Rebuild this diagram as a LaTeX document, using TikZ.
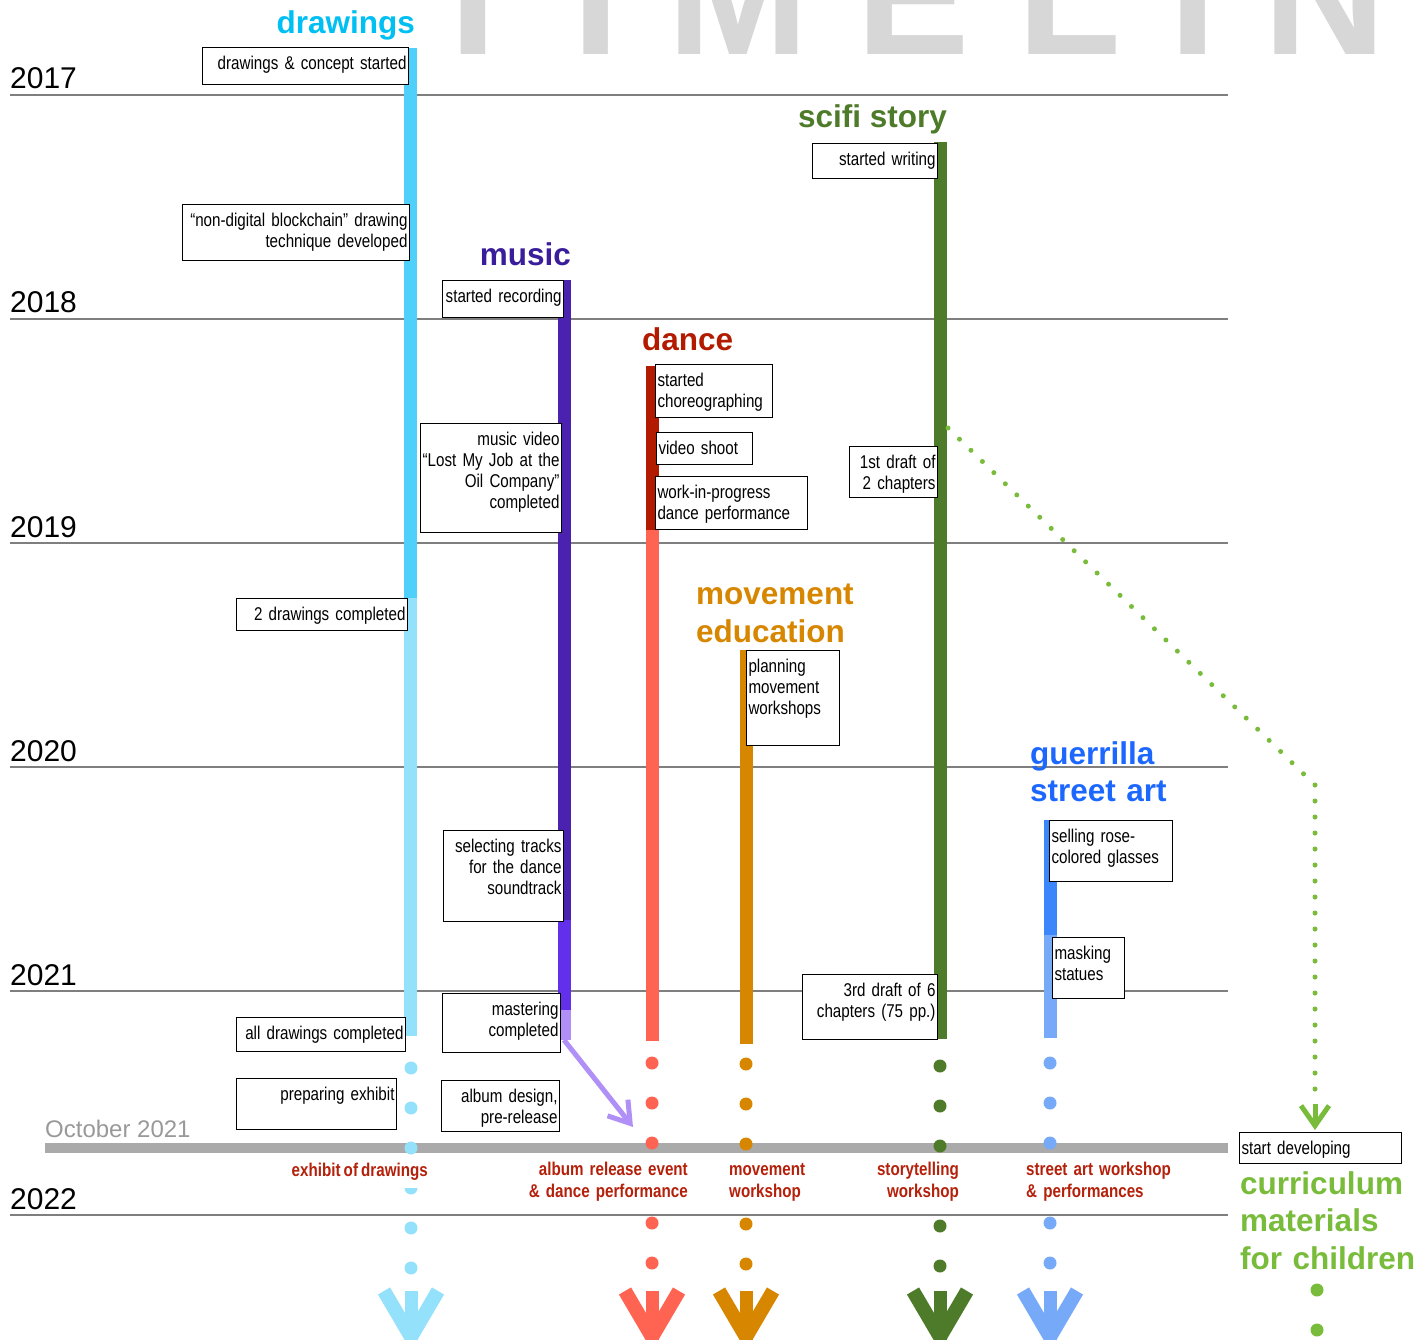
\documentclass[tikz,border=0pt]{standalone}
\usepackage{fontspec}
\setmainfont{Liberation Sans}
\newfontfamily\narrowfont[FakeStretch=0.82, WordSpace=0.75]{Liberation Sans}
\newfontfamily\narrowbold[FakeStretch=0.82, WordSpace=0.75]{Liberation Sans Bold}
\newfontfamily\bigfont[LetterSpace=28]{Liberation Sans Bold}
\usetikzlibrary{arrows.meta}

\definecolor{bigGray}{HTML}{D7D7D7}
\definecolor{yearGray}{HTML}{7F7F7F}
\definecolor{octGray}{HTML}{AAAAAA}
\definecolor{octText}{HTML}{999999}
\definecolor{labelRed}{HTML}{B5200A}
\definecolor{drawTitle}{HTML}{00BFF3}
\definecolor{drawDark}{HTML}{4FD0FA}
\definecolor{drawLight}{HTML}{94E1FB}
\definecolor{musTitle}{HTML}{3A1D9A}
\definecolor{musDark}{HTML}{4B22B0}
\definecolor{musMid}{HTML}{6230EA}
\definecolor{musLight}{HTML}{B090F6}
\definecolor{danDark}{HTML}{B21B00}
\definecolor{danLight}{HTML}{FF6352}
\definecolor{movColor}{HTML}{D78600}
\definecolor{sciColor}{HTML}{4E7B29}
\definecolor{strTitle}{HTML}{1C68FF}
\definecolor{strDark}{HTML}{3B86FA}
\definecolor{strLight}{HTML}{76A9F8}
\definecolor{curColor}{HTML}{79BC3B}

\tikzset{
  yearline/.style={draw=yearGray, line width=2pt},
  bar/.style={line width=13pt},
  tail/.style={line width=13pt, line cap=round, dash pattern=on 0pt off 40pt},
  stem/.style={line width=13pt},
  barbs/.style={line width=14pt, miter limit=10},
  tbox/.style={draw, fill=white, line width=1pt, inner xsep=2pt, inner ysep=6pt,
    text height=16pt, anchor=north west,
    font=\narrowfont\fontsize{18.5}{21}\selectfont},
  lbl/.style={fill=white, inner sep=2pt, text height=14pt,
    text=labelRed, font=\narrowbold\fontsize{18.5}{22}\selectfont},
  title/.style={inner sep=0pt, font=\bfseries\fontsize{31.5}{37.5}\selectfont},
  year/.style={inner sep=0pt, anchor=base west, font=\fontsize{30}{30}\selectfont},
}

\begin{document}
\begin{tikzpicture}[x=1pt, y=-1pt]
  \useasboundingbox (0,0) rectangle (1425,1340);
  \clip (0,0) rectangle (1425,1340);

  % background title, cut off at the top
  \node[anchor=base west, inner sep=0pt, text=bigGray,
    font=\bigfont\fontsize{170}{170}\selectfont] at (421,55) (bigtitle) {TIMELINE};

  % years
  \foreach \yr/\y in {2017/95, 2018/319, 2019/543, 2020/767, 2021/991, 2022/1215} {
    \draw[yearline] (10,\y) -- (1228,\y);
    \node[year] at (10,\y-6) (y\yr) {\yr};
  }
  \draw[draw=octGray, line width=10pt] (45,1148) -- (1228,1148);
  \node[anchor=base west, inner sep=0pt, text=octText,
    font=\fontsize{24}{24}\selectfont] at (45,1137) (oct) {October 2021};

  % bars
  \coordinate (drTop) at (410,48);
  \coordinate (drMid) at (410,598);
  \coordinate (drEnd) at (410,1036);
  \coordinate (muTop) at (564,280);
  \coordinate (muMid) at (564,920);
  \coordinate (muLow) at (564,1010);
  \coordinate (muEnd) at (564,1040);
  \coordinate (daTop) at (652,366);
  \coordinate (daMid) at (652,530);
  \coordinate (daEnd) at (652,1041);
  \coordinate (mvTop) at (746,650);
  \coordinate (mvEnd) at (746,1044);
  \coordinate (scTop) at (940,142);
  \coordinate (scEnd) at (940,1039);
  \coordinate (stTop) at (1050,820);
  \coordinate (stMid) at (1050,935);
  \coordinate (stEnd) at (1050,1038);
  \draw[bar, drawDark] (drTop) -- (drMid);
  \draw[bar, drawLight] (drMid) -- (drEnd);
  \draw[bar, musDark] (muTop) -- (muMid);
  \draw[bar, musMid] (muMid) -- (muLow);
  \draw[bar, musLight] (muLow) -- (muEnd);
  \draw[bar, danDark] (daTop) -- (daMid);
  \draw[bar, danLight] (daMid) -- (daEnd);
  \draw[bar, movColor] (mvTop) -- (mvEnd);
  \draw[bar, sciColor] (scTop) -- (scEnd);
  \draw[bar, strDark] (stTop) -- (stMid);
  \draw[bar, strLight] (stMid) -- (stEnd);

  % dotted tails and big arrows
  \foreach \n/\x/\y/\col in {dr/411/1068/drawLight, da/652/1063/danLight,
      mv/746/1064/movColor, sc/940/1066/sciColor, st/1050/1063/strLight} {
    \coordinate (\n Dot) at (\x,\y);
    \coordinate (\n Last) at (\x,1272);
    \coordinate (\n Head) at (\x,1291);
    \coordinate (\n Tip) at (\x,1340);
    \draw[tail, \col] (\n Dot) -- (\n Last);
    \draw[stem, \col] (\n Head) -- (\n Tip);
    \draw[barbs, \col] (\x-27,1291) -- (\x,1337) -- (\x+27,1291);
  }

  % music -> album release
  \coordinate (daRelease) at (633,1127);
  \draw[musLight, line width=5pt, -{Straight Barb[length=20pt, width=26pt]}] (muEnd) -- (daRelease);

  % scifi story -> curriculum
  \coordinate (scFork) at (948,428);
  \coordinate (cuBend) at (1315,785);
  \coordinate (cuDown) at (1315,1092);
  \coordinate (cuHead) at (1315,1104);
  \draw[curColor, line width=5pt, line cap=round, dash pattern=on 0pt off 16pt]
    (scFork) -- (cuBend) -- (cuDown);
  \draw[curColor, line width=5pt, -{Straight Barb[length=20pt, width=28pt]}] (cuHead) -- (1315,1130);
  \coordinate (cuDotA) at (1317,1290);
  \coordinate (cuDotB) at (1317,1336);
  \draw[tail, curColor] (cuDotA) -- (cuDotB);

  % drawings
  \node[tbox, text width=202pt, text depth=9pt, align=right] at (202,47) (dr1) {drawings \& concept started};
  \node[tbox, text width=223pt, text depth=28pt, align=right] at (182,204) (dr2) {“non-digital blockchain” drawing\\technique developed};
  \node[tbox, text width=167pt, text depth=4pt, align=right] at (236,598) (dr3) {2 drawings completed};
  \node[tbox, text width=165pt, text depth=6pt, align=right] at (236,1017) (dr4) {all drawings completed};
  \node[tbox, text width=156pt, text depth=23pt, align=right] at (236,1078) (dr5) {preparing exhibit};

  % music
  \node[tbox, text width=117pt, text depth=9pt, align=right] at (442,280) (mu1) {started recording};
  \node[tbox, text width=137pt, text depth=81pt, align=right] at (420,423) (mu2) {music video\\“Lost My Job at the\\Oil Company”\\completed};
  \node[tbox, text width=116pt, text depth=63pt, align=right] at (443,830) (mu3) {selecting tracks\\for the dance\\soundtrack};
  \node[tbox, text width=114pt, text depth=31pt, align=right] at (442,993) (mu4) {mastering\\completed};
  \node[tbox, text width=114pt, text depth=23pt, align=right] at (441,1080) (mu5) {album design,\\pre-release};

  % dance
  \node[tbox, text width=113pt, text depth=25pt, align=left] at (655,364) (da1) {started\\choreographing};
  \node[tbox, text width=92pt, text depth=4pt, align=left] at (656,432) (da2) {video shoot};
  \node[tbox, text width=148pt, text depth=25pt, align=left] at (655,476) (da3) {work-in-progress\\dance performance};

  % movement education
  \node[tbox, text width=89pt, text depth=67pt, align=left] at (746,650) (mv1) {planning\\movement\\workshops};

  % scifi story
  \node[tbox, text width=121pt, text depth=7pt, align=right] at (812,143) (sc1) {started writing};
  \node[tbox, text width=84pt, text depth=23pt, align=right] at (849,446) (sc2) {1st draft of\\2 chapters};
  \node[tbox, text width=131pt, text depth=37pt, align=right] at (802,974) (sc3) {3rd draft of 6\\chapters (75 pp.)};

  % street art
  \node[tbox, text width=119pt, text depth=33pt, align=left] at (1049,820) (st1) {selling rose-\\colored glasses};
  \node[tbox, text width=68pt, text depth=33pt, align=left] at (1052,937) (st2) {masking\\statues};

  % curriculum
  \node[tbox, text width=158pt, text depth=3pt, align=left] at (1239,1132) (cu1) {start developing};

  % events
  \node[lbl, anchor=north east, text depth=10pt] at (430,1160) (evDr) {exhibit of drawings};
  \node[lbl, anchor=north east, text width=165pt, align=right] at (690,1159) (evDa) {album release event\\\& dance performance};
  \node[lbl, anchor=north west, text width=90pt, align=left] at (727,1159) (evMv) {movement\\workshop};
  \node[lbl, anchor=north east, text width=90pt, align=right] at (961,1159) (evSc) {storytelling\\workshop};
  \node[lbl, anchor=north west, text width=150pt, align=left] at (1024,1159) (evSt) {street art workshop\\\& performances};

  % titles
  \node[title, anchor=base east, text=drawTitle] at (415,34) (tDr) {drawings};
  \node[title, anchor=base east, text=musTitle] at (571,266) (tMu) {music};
  \node[title, anchor=base west, text=danDark] at (642,351) (tDa) {dance};
  \node[title, anchor=north west, text width=200pt, align=left, text height=23pt, text=movColor,
    font=\bfseries\fontsize{31.5}{38}\selectfont] at (696,581) (tMv) {movement\\education};
  \node[title, anchor=base west, text=sciColor] at (798,128) (tSc) {scifi story};
  \node[title, anchor=north west, text width=180pt, align=left, text height=23pt, text=strTitle] at (1030,741) (tSt) {guerrilla\\street art};
  \node[title, anchor=north west, text width=185pt, align=left, text height=23pt, text=curColor] at (1240,1171) (tCu) {curriculum\\materials\\for children};
\end{tikzpicture}
\end{document}
